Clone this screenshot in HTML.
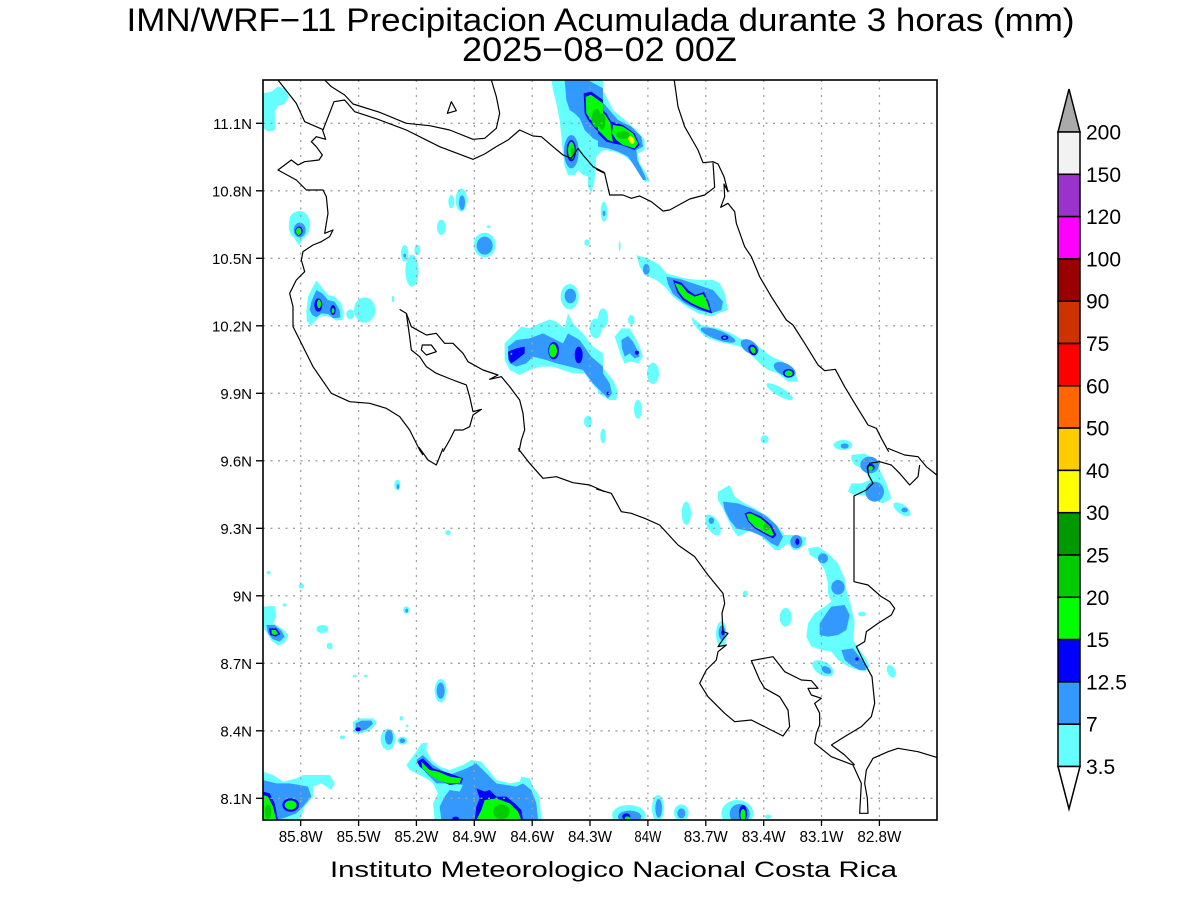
<!DOCTYPE html>
<html><head><meta charset="utf-8"><style>
html,body{margin:0;padding:0;background:#fff;}
svg{display:block;}
text{font-family:"Liberation Sans",sans-serif;fill:#000;}
</style></head><body>
<svg width="1200" height="900" viewBox="0 0 1200 900" xmlns="http://www.w3.org/2000/svg">
<defs><clipPath id="mc"><rect x="263" y="80" width="674" height="740"/></clipPath></defs>
<rect width="1200" height="900" fill="#fff"/>

<text x="126.5" y="31" font-size="32.5" textLength="948" lengthAdjust="spacingAndGlyphs">IMN/WRF−11 Precipitacion Acumulada durante 3 horas (mm)</text>
<text x="462" y="61" font-size="34" textLength="275" lengthAdjust="spacingAndGlyphs">2025−08−02 00Z</text>

<g clip-path="url(#mc)">
<!-- CYAN -->
<g fill="#66ffff">
<g transform="translate(263,80) scale(0.33333)">
<path d="M0,40 L25,35 L45,20 L65,25 L78,50 L65,72 L45,78 L35,95 L38,150 L15,155 L0,145 Z"/>
<path d="M80,415 Q85,395 110,393 Q135,395 140,425 Q143,455 128,470 Q115,480 110,495 Q100,490 95,475 Q75,460 78,430 Z"/>
<path d="M135,650 L150,620 L160,602 L175,620 L195,645 L215,650 L235,670 L242,700 L238,720 L220,722 L205,712 L190,708 L170,710 L155,725 L145,738 L132,725 L130,695 Z"/>
<ellipse cx="262" cy="703" rx="12" ry="15"/>
<ellipse cx="305" cy="690" rx="32" ry="38"/>
<ellipse cx="565" cy="365" rx="9" ry="20"/>
<ellipse cx="595" cy="360" rx="17" ry="35"/>
<ellipse cx="535" cy="442" rx="13" ry="23"/>
<ellipse cx="665" cy="495" rx="33" ry="37"/>
<ellipse cx="425" cy="520" rx="11" ry="25"/>
<ellipse cx="463" cy="510" rx="9" ry="16"/>
<ellipse cx="447" cy="572" rx="20" ry="48"/>
<ellipse cx="390" cy="657" rx="4" ry="10"/>
<ellipse cx="920" cy="650" rx="27" ry="38"/>
<ellipse cx="998" cy="745" rx="18" ry="30"/>
<ellipse cx="972" cy="488" rx="8" ry="10"/>
<ellipse cx="975" cy="1025" rx="12" ry="18"/>
<ellipse cx="677" cy="440" rx="6" ry="4"/>
<path d="M865,0 L1020,0 L1020,210 L1000,230 L995,300 L985,340 L975,320 L975,290 L960,285 L945,270 L935,285 L915,285 L905,260 L900,220 L895,170 L890,120 L880,70 L870,30 Z"/>
<path d="M725,790 L775,740 L800,745 L830,730 L860,718 L880,725 L905,745 L915,700 L930,730 L960,760 L990,800 L1020,820 L1020,945 L990,915 L965,880 L930,880 L900,870 L870,860 L830,860 L800,870 L770,885 L740,870 L725,840 Z"/>
</g>
<g transform="translate(598,80) scale(0.33333)">
<path d="M0,20 L20,40 L45,90 L80,120 L115,150 L140,180 L140,210 L120,220 L125,250 L145,280 L155,305 L140,305 L120,270 L100,245 L75,225 L50,215 L20,210 L0,215 Z"/>
<ellipse cx="18" cy="395" rx="10" ry="30"/>
<ellipse cx="65" cy="498" rx="3" ry="15"/>
<path d="M115,525 L150,535 L185,555 L205,580 L260,595 L300,600 L345,600 L365,610 L380,640 L390,690 L360,700 L340,710 L300,700 L265,680 L225,650 L200,620 L175,600 L140,585 L125,560 Z"/>
<path d="M280,710 L310,735 L360,745 L400,760 L425,775 L470,790 L495,810 L520,830 L555,845 L590,870 L600,905 L570,905 L540,880 L510,870 L490,855 L470,835 L440,805 L410,795 L380,790 L330,775 L310,760 L285,730 Z"/>
<ellipse cx="545" cy="935" rx="45" ry="13" transform="rotate(30 545 935)"/>
<path d="M50,770 L70,745 L95,745 L110,770 L125,800 L135,830 L120,850 L100,845 L80,850 L70,830 L60,800 Z"/>
<path d="M0,850 L20,870 L45,900 L60,935 L55,960 L35,960 L10,945 L0,940 Z"/>
<ellipse cx="165" cy="880" rx="18" ry="32"/>
<ellipse cx="120" cy="988" rx="12" ry="28"/>
<ellipse cx="15" cy="1068" rx="8" ry="22"/>
<ellipse cx="15" cy="715" rx="15" ry="30"/>
<ellipse cx="100" cy="720" rx="10" ry="15"/>
<ellipse cx="500" cy="1078" rx="12" ry="12"/>
<ellipse cx="735" cy="1095" rx="28" ry="15"/>
</g>
<g transform="translate(263,450) scale(0.33333)">
<ellipse cx="403" cy="105" rx="9" ry="16"/>
<ellipse cx="555" cy="248" rx="8" ry="8"/>
<ellipse cx="115" cy="408" rx="8" ry="8"/>
<ellipse cx="17" cy="368" rx="6" ry="5"/>
<ellipse cx="65" cy="465" rx="6" ry="5"/>
<ellipse cx="430" cy="480" rx="9" ry="11"/>
<path d="M0,470 L35,468 L40,500 L30,520 L60,538 L77,555 L65,578 L45,587 L25,572 L10,545 L0,535 Z"/>
<ellipse cx="178" cy="537" rx="18" ry="12"/>
<ellipse cx="200" cy="588" rx="9" ry="10"/>
<ellipse cx="275" cy="678" rx="6" ry="4"/>
<ellipse cx="308" cy="678" rx="5" ry="4"/>
<ellipse cx="533" cy="722" rx="18" ry="35"/>
<path d="M270,815 L290,805 L330,805 L342,818 L325,838 L295,850 L272,848 Z"/>
<ellipse cx="375" cy="868" rx="22" ry="32"/>
<ellipse cx="418" cy="872" rx="15" ry="12"/>
<ellipse cx="238" cy="862" rx="8" ry="6"/>
<ellipse cx="415" cy="805" rx="5" ry="7"/>
<ellipse cx="432" cy="828" rx="4" ry="4"/>
<path d="M0,965 L30,975 L60,995 L100,985 L120,975 L160,975 L200,975 L215,1000 L205,1020 L175,1000 L150,1010 L150,1040 L125,1070 L110,1110 L0,1110 Z"/>
<path d="M430,945 L460,905 L475,880 L492,878 L490,900 L505,930 L530,950 L560,960 L600,945 L625,930 L655,935 L680,965 L700,990 L740,1000 L770,995 L775,980 L800,985 L810,1010 L830,1040 L835,1110 L515,1110 L510,1060 L525,1030 L510,1000 L490,985 L460,970 L440,960 Z"/>
</g>
<g transform="translate(598,450) scale(0.33333)">
<path d="M360,125 L395,105 L410,140 L440,160 L470,175 L510,200 L540,230 L560,255 L590,255 L625,262 L620,285 L600,300 L585,300 L570,280 L545,300 L530,300 L510,280 L490,260 L460,240 L420,260 L405,240 L390,210 L375,175 L360,150 Z"/>
<ellipse cx="265" cy="190" rx="14" ry="35"/>
<ellipse cx="345" cy="225" rx="18" ry="35" transform="rotate(-30 345 225)"/>
<path d="M630,295 L660,290 L690,310 L720,340 L740,385 L745,420 L760,470 L770,520 L765,570 L785,600 L800,620 L815,650 L800,665 L780,660 L750,650 L720,630 L700,605 L670,600 L640,590 L625,560 L630,520 L650,490 L680,470 L700,455 L690,430 L690,400 L680,360 L660,330 L635,315 Z"/>
<ellipse cx="563" cy="502" rx="18" ry="28"/>
<ellipse cx="442" cy="432" rx="8" ry="10"/>
<ellipse cx="792" cy="492" rx="12" ry="7"/>
<ellipse cx="675" cy="655" rx="35" ry="20" transform="rotate(30 675 655)"/>
<ellipse cx="880" cy="664" rx="12" ry="20" transform="rotate(-25 880 664)"/>
<ellipse cx="370" cy="552" rx="16" ry="38"/>
<path d="M760,15 L800,10 L830,30 L845,60 L865,100 L880,145 L855,160 L830,150 L800,135 L770,135 L750,125 L760,100 L790,100 L815,90 L800,60 L770,45 L760,30 Z"/>
<ellipse cx="912" cy="178" rx="30" ry="14" transform="rotate(35 912 178)"/>
<ellipse cx="92" cy="1095" rx="50" ry="30"/>
<ellipse cx="180" cy="1075" rx="18" ry="40"/>
<ellipse cx="250" cy="1088" rx="22" ry="25"/>
<ellipse cx="418" cy="1090" rx="48" ry="40"/>
<ellipse cx="510" cy="1100" rx="10" ry="6"/>
</g>
</g>

<!-- LIGHT BLUE -->
<g fill="#3399ff">
<g transform="translate(263,80) scale(0.33333)">
<ellipse cx="110" cy="450" rx="18" ry="22"/>
<path d="M145,665 L160,630 L178,640 L195,660 L215,665 L230,690 L232,712 L212,715 L195,702 L175,700 L160,712 L148,705 L140,690 Z"/>
<ellipse cx="597" cy="368" rx="9" ry="22"/>
<ellipse cx="665" cy="497" rx="24" ry="27"/>
<ellipse cx="425" cy="527" rx="4" ry="6"/>
<ellipse cx="922" cy="648" rx="17" ry="22"/>
<path d="M905,0 L975,0 L1020,25 L1020,190 L990,175 L965,150 L950,115 L935,100 L920,90 L910,60 Z"/>
<ellipse cx="925" cy="215" rx="22" ry="50"/>
<path d="M735,800 L760,780 L800,775 L840,760 L870,775 L900,790 L915,760 L950,780 L985,830 L1020,860 L1020,940 L990,910 L960,870 L920,860 L880,850 L850,840 L810,830 L790,850 L760,860 L740,850 Z"/>
</g>
<g transform="translate(598,80) scale(0.33333)">
<path d="M0,50 L30,85 L60,120 L100,140 L130,170 L135,200 L115,210 L118,240 L140,285 L145,300 L135,300 L110,260 L90,230 L60,215 L30,205 L0,200 Z"/>
<ellipse cx="18" cy="400" rx="4" ry="8"/>
<ellipse cx="145" cy="568" rx="10" ry="16"/>
<path d="M205,590 L250,598 L300,615 L345,630 L375,665 L370,690 L340,700 L300,690 L260,670 L225,642 L210,612 Z"/>
<ellipse cx="360" cy="765" rx="55" ry="14" transform="rotate(20 360 765)"/>
<ellipse cx="455" cy="800" rx="30" ry="18" transform="rotate(35 455 800)"/>
<ellipse cx="560" cy="868" rx="35" ry="18" transform="rotate(25 560 868)"/>
<path d="M70,780 L90,768 L105,785 L118,810 L125,830 L110,835 L95,820 L80,830 L72,805 Z"/>
<path d="M0,860 L15,880 L35,910 L42,940 L30,955 L10,935 L0,925 Z"/>
<ellipse cx="740" cy="1098" rx="12" ry="8"/>
</g>
<g transform="translate(263,450) scale(0.33333)">
<ellipse cx="405" cy="110" rx="4" ry="8"/>
<ellipse cx="431" cy="482" rx="4" ry="6"/>
<path d="M10,525 L35,525 L55,542 L65,560 L50,575 L30,568 L15,550 Z"/>
<ellipse cx="533" cy="722" rx="12" ry="24"/>
<path d="M278,820 L295,812 L325,812 L330,822 L310,838 L290,845 L278,840 Z"/>
<ellipse cx="378" cy="862" rx="12" ry="22"/>
<ellipse cx="418" cy="872" rx="9" ry="7"/>
<path d="M0,990 L40,1000 L80,1000 L110,1005 L135,1010 L145,1040 L120,1070 L100,1090 L60,1105 L30,1110 L0,1110 Z"/>
<path d="M460,930 L480,915 L510,945 L560,975 L610,955 L640,940 L670,970 L700,1000 L760,1010 L780,1000 L805,1020 L820,1060 L825,1110 L535,1110 L530,1070 L545,1040 L560,1020 L590,1025 L600,1005 L560,1000 L520,1000 L490,970 Z"/>
</g>
<g transform="translate(598,450) scale(0.33333)">
<path d="M375,155 L420,160 L460,175 L500,195 L535,225 L555,260 L540,290 L520,280 L495,260 L460,245 L415,235 L395,210 L380,180 Z"/>
<ellipse cx="595" cy="275" rx="18" ry="20"/>
<ellipse cx="340" cy="212" rx="8" ry="10"/>
<ellipse cx="675" cy="325" rx="15" ry="15"/>
<ellipse cx="720" cy="412" rx="20" ry="22"/>
<path d="M700,470 L740,465 L755,495 L745,540 L720,555 L690,560 L665,555 L665,520 L685,490 Z"/>
<path d="M730,600 L765,595 L780,615 L800,640 L805,660 L785,660 L765,650 L740,630 Z"/>
<ellipse cx="685" cy="660" rx="16" ry="10" transform="rotate(30 685 660)"/>
<ellipse cx="372" cy="548" rx="10" ry="22"/>
<ellipse cx="815" cy="45" rx="28" ry="25"/>
<ellipse cx="830" cy="125" rx="28" ry="30"/>
<ellipse cx="920" cy="180" rx="10" ry="7"/>
<ellipse cx="95" cy="1100" rx="35" ry="18"/>
<ellipse cx="182" cy="1075" rx="10" ry="28"/>
<ellipse cx="250" cy="1090" rx="12" ry="15"/>
<ellipse cx="425" cy="1092" rx="30" ry="30"/>
</g>
</g>

<!-- BLUE -->
<g fill="#0000ff">
<g transform="translate(263,80) scale(0.33333)">
<ellipse cx="108" cy="453" rx="11" ry="14"/>
<ellipse cx="166" cy="675" rx="12" ry="20"/>
<ellipse cx="210" cy="690" rx="8" ry="15"/>
<path d="M962,40 L985,35 L1020,60 L1020,160 L1000,150 L975,120 L965,100 Z"/>
<ellipse cx="925" cy="212" rx="14" ry="32"/>
<path d="M735,815 L760,805 L785,800 L785,820 L760,840 L745,850 L737,840 Z"/>
<ellipse cx="872" cy="812" rx="16" ry="26"/>
<ellipse cx="947" cy="825" rx="12" ry="25"/>
</g>
<g transform="translate(598,80) scale(0.33333)">
<path d="M0,75 L25,100 L40,125 L75,135 L110,160 L125,195 L110,210 L70,195 L45,190 L25,185 L0,160 Z"/>
<path d="M225,600 L250,608 L272,632 L292,645 L318,636 L332,665 L342,700 L312,690 L280,675 L255,660 L238,638 Z"/>
<ellipse cx="380" cy="773" rx="11" ry="7"/>
<ellipse cx="465" cy="810" rx="13" ry="17" transform="rotate(-30 465 810)"/>
<ellipse cx="572" cy="880" rx="17" ry="13"/>
<ellipse cx="117" cy="818" rx="6" ry="6"/>
<ellipse cx="30" cy="940" rx="4" ry="5"/>
</g>
<g transform="translate(263,450) scale(0.33333)">
<path d="M18,535 L40,535 L52,552 L38,560 L22,555 Z"/>
<ellipse cx="285" cy="838" rx="8" ry="6"/>
<path d="M0,1025 L20,1030 L35,1060 L45,1110 L0,1110 Z"/>
<ellipse cx="83" cy="1065" rx="25" ry="20"/>
<path d="M462,935 L480,925 L510,955 L560,970 L600,985 L595,1000 L560,1005 L530,990 L500,975 L470,950 Z"/>
<path d="M640,1015 L665,1025 L680,1020 L700,1040 L730,1040 L755,1060 L775,1080 L780,1110 L635,1110 L640,1070 L650,1045 Z"/>
<ellipse cx="578" cy="1105" rx="10" ry="5"/>
</g>
<g transform="translate(598,450) scale(0.33333)">
<path d="M440,190 L455,185 L490,200 L520,225 L535,255 L525,265 L505,255 L470,235 L450,215 Z"/>
<ellipse cx="598" cy="275" rx="6" ry="10"/>
<ellipse cx="777" cy="627" rx="5" ry="5"/>
<ellipse cx="818" cy="52" rx="12" ry="10"/>
<ellipse cx="375" cy="548" rx="5" ry="8"/>
<ellipse cx="85" cy="1100" rx="12" ry="10"/>
<ellipse cx="435" cy="1090" rx="12" ry="25"/>
</g>
</g>

<!-- GREEN -->
<g fill="#00ff00">
<g transform="translate(263,80) scale(0.33333)">
<ellipse cx="107" cy="454" rx="8" ry="11"/>
<ellipse cx="168" cy="672" rx="6" ry="13"/>
<ellipse cx="210" cy="692" rx="4" ry="8"/>
<path d="M968,50 L985,45 L1020,70 L1020,150 L1000,140 L980,115 L970,100 Z"/>
<ellipse cx="925" cy="212" rx="10" ry="26"/>
<ellipse cx="870" cy="812" rx="12" ry="20"/>
<ellipse cx="745" cy="822" rx="3" ry="3"/>
</g>
<g transform="translate(598,80) scale(0.33333)">
<path d="M0,85 L22,105 L38,130 L40,160 L45,185 L30,180 L15,165 L0,150 Z"/>
<path d="M45,135 L75,140 L105,160 L120,190 L110,205 L75,195 L55,180 L42,160 Z"/>
<path d="M230,608 L250,615 L268,638 L290,650 L315,642 L327,665 L336,692 L310,683 L282,670 L258,655 L242,635 Z"/>
<ellipse cx="380" cy="773" rx="5" ry="3"/>
<ellipse cx="465" cy="810" rx="7" ry="11" transform="rotate(-30 465 810)"/>
<ellipse cx="572" cy="880" rx="12" ry="9"/>
</g>
<g transform="translate(263,450) scale(0.33333)">
<path d="M25,540 L38,540 L46,552 L35,555 L26,552 Z"/>
<path d="M0,1035 L15,1040 L30,1070 L40,1110 L0,1110 Z"/>
<ellipse cx="83" cy="1065" rx="18" ry="14"/>
<path d="M475,935 L500,960 L525,965 L560,980 L595,985 L590,1000 L555,1000 L525,990 L500,975 L478,955 Z"/>
<path d="M665,1050 L700,1045 L740,1060 L765,1085 L775,1110 L640,1110 L655,1080 Z"/>
</g>
<g transform="translate(598,450) scale(0.33333)">
<path d="M445,192 L458,190 L488,205 L515,228 L528,255 L520,258 L505,250 L472,232 L452,212 Z"/>
<ellipse cx="818" cy="55" rx="7" ry="7"/>
<ellipse cx="88" cy="1105" rx="8" ry="6"/>
<ellipse cx="435" cy="1095" rx="8" ry="18"/>
</g>
</g>

<!-- DARK GREEN / YELLOW -->
<g fill="#00cc00">
<g transform="translate(263,80) scale(0.33333)">
<ellipse cx="1000" cy="115" rx="14" ry="28"/>
<ellipse cx="928" cy="215" rx="5" ry="12"/>
</g>
<g transform="translate(598,80) scale(0.33333)">
<ellipse cx="75" cy="165" rx="20" ry="12"/>
<ellipse cx="12" cy="125" rx="10" ry="25"/>
</g>
<g transform="translate(263,450) scale(0.33333)">
<ellipse cx="15" cy="1085" rx="10" ry="22"/>
<ellipse cx="715" cy="1085" rx="25" ry="22"/>
</g>
<g transform="translate(598,450) scale(0.33333)">
<ellipse cx="505" cy="232" rx="10" ry="10"/>
</g>
</g>
<g fill="#ffff00" transform="translate(598,80) scale(0.33333)">
<ellipse cx="100" cy="180" rx="8" ry="12" transform="rotate(-30 100 180)"/>
</g>

<!-- GRID -->
<g stroke="#a0a0a0" stroke-width="1.3" stroke-dasharray="2,5.5" fill="none">
<path d="M300.7,80V820M358.6,80V820M416.4,80V820M474.3,80V820M532.2,80V820M590,80V820M647.9,80V820M705.8,80V820M763.7,80V820M821.5,80V820M879.4,80V820"/>
<path d="M263,123.3H937M263,190.8H937M263,258.3H937M263,325.8H937M263,393.3H937M263,460.8H937M263,528.3H937M263,595.8H937M263,663.3H937M263,730.8H937M263,798.3H937"/>
</g>

<!-- COASTLINES -->
<g fill="none" stroke="#000" stroke-width="3.6" stroke-linejoin="round">
<g transform="translate(263,80) scale(0.33333)">
<path d="M45,0 L100,70 L125,125 L178,148 L188,178 L160,170 L145,185 L160,200 L178,225 L168,240 L125,245 L105,255 L85,240 L45,270 L100,300 L130,330 L180,330 L190,350 L195,400 L185,460 L210,450 L200,470 L175,485 L150,495 L120,515 L115,540 L125,575 L100,600 L80,640 L90,680 L90,740 L120,800 L150,860 L205,940 L260,965 L320,970 L370,985 L410,1010 L440,1050 L470,1110 L480,1125"/>
<path d="M185,0 L205,20 L245,45 L270,72 L350,97 L430,130 L500,137 L560,150 L630,178 L665,175 L700,145 L710,100 L700,50 L685,0"/>
<path d="M180,150 L213,65 L245,60 L275,95 L345,118 L430,150 L530,200 L630,238 L665,222 L700,200 L735,180 L770,150 L810,168 L835,170 L870,200 L900,225 L925,235 L945,205 L960,225 L990,260 L1025,278"/>
<path d="M565,65 L580,92 L553,100 Z"/>
<path d="M410,688 L430,700 L445,740 L490,765 L520,760 L545,790 L570,790 L600,820 L615,845 L660,870 L705,885 L680,898 L715,890 L740,920 L770,960 L780,1000 L785,1050 L775,1080 L768,1115"/>
<path d="M430,700 L440,770 L445,810 L470,830 L490,860 L520,880 L570,900 L610,915 L620,950 L630,995 L655,988 L630,1005 L620,1040 L600,1050 L575,1050 L560,1080 L540,1115"/>
<path d="M478,795 L505,795 L520,815 L490,825 L475,810 Z"/>
</g>
<g transform="translate(598,80) scale(0.33333)">
<path d="M-5,268 L20,280 L35,345 L75,345 L100,355 L125,348 L160,365 L195,393 L215,390 L275,357 L320,345 L350,322 L345,248"/>
<path d="M228,-5 L240,80 L260,140 L300,210 L315,248 L345,245 L360,252 L378,290 L390,335 L378,312 L380,350 L368,382 L390,370 L410,395 L415,430 L440,500 L460,530 L485,590 L520,650 L565,720 L585,735 L620,790 L660,855 L680,872 L712,868 L740,920 L770,970 L810,1035 L835,1045 L850,1075 L872,1115"/>
</g>
<g transform="translate(263,450) scale(0.33333)">
<path d="M765,-5 L800,40 L840,85 L880,80 L930,98 L980,105 L1025,125"/>
<path d="M468,-8 L495,30 L520,45 L540,-5"/>
</g>
<g transform="translate(598,450) scale(0.33333)">
<path d="M-5,117 L40,130 L70,185 L100,190 L140,205 L185,225 L240,285 L290,320 L330,375 L375,430 L380,460 L372,490 L375,545 L390,550 L375,568 L360,590 L385,585 L360,605 L355,630 L325,660 L305,700 L330,740 L380,790 L410,815 L460,810 L555,858 L575,830 L570,780 L545,740 L500,715 L485,690 L460,632 L525,620 L560,665 L610,690 L640,692 L660,715 L630,715 L640,735 L670,745 L650,760 L665,790 L665,825 L655,850 L650,880 L700,920 L765,945 L790,1000 L785,1090 L810,1090 L808,1045 L800,1000 L805,960 L825,925 L870,905 L900,895 L960,905 L1025,925"/>
<path d="M700,885 L740,860 L790,830 L820,800 L830,760 L822,680 L800,640 L775,590 L800,575 L805,545 L840,520 L880,495 L890,475 L875,455 L850,440 L810,405 L768,395 L768,138 L805,120 L825,100 L812,75 L808,55 L815,40 L845,35 L880,45 L905,70 L935,105 L960,80 L965,45"/>
<path d="M700,885 L740,915 L770,945"/>
<path d="M870,-5 L920,15 L960,20 L985,50 L1025,82"/>
</g>
</g>
</g>

<!-- FRAME -->
<rect x="263" y="80" width="674" height="740" fill="none" stroke="#000" stroke-width="1.6"/>
<g stroke="#000" stroke-width="1.3">
<path d="M256,123.3H263M256,190.8H263M256,258.3H263M256,325.8H263M256,393.3H263M256,460.8H263M256,528.3H263M256,595.8H263M256,663.3H263M256,730.8H263M256,798.3H263"/>
<path d="M300.7,820V826M358.6,820V826M416.4,820V826M474.3,820V826M532.2,820V826M590,820V826M647.9,820V826M705.8,820V826M763.7,820V826M821.5,820V826M879.4,820V826"/>
</g>

<g font-size="15" text-anchor="end">
<text x="252" y="129">11.1N</text>
<text x="252" y="196.5">10.8N</text>
<text x="252" y="264">10.5N</text>
<text x="252" y="331.5">10.2N</text>
<text x="252" y="399">9.9N</text>
<text x="252" y="466.5">9.6N</text>
<text x="252" y="534">9.3N</text>
<text x="252" y="601.5">9N</text>
<text x="252" y="669">8.7N</text>
<text x="252" y="736.5">8.4N</text>
<text x="252" y="804">8.1N</text>
</g>
<g font-size="15.5" text-anchor="middle">
<text x="300.7" y="842" textLength="44" lengthAdjust="spacingAndGlyphs">85.8W</text>
<text x="358.6" y="842" textLength="44" lengthAdjust="spacingAndGlyphs">85.5W</text>
<text x="416.4" y="842" textLength="44" lengthAdjust="spacingAndGlyphs">85.2W</text>
<text x="474.3" y="842" textLength="44" lengthAdjust="spacingAndGlyphs">84.9W</text>
<text x="532.2" y="842" textLength="44" lengthAdjust="spacingAndGlyphs">84.6W</text>
<text x="590" y="842" textLength="44" lengthAdjust="spacingAndGlyphs">84.3W</text>
<text x="647.9" y="842" textLength="27" lengthAdjust="spacingAndGlyphs">84W</text>
<text x="705.8" y="842" textLength="44" lengthAdjust="spacingAndGlyphs">83.7W</text>
<text x="763.7" y="842" textLength="44" lengthAdjust="spacingAndGlyphs">83.4W</text>
<text x="821.5" y="842" textLength="44" lengthAdjust="spacingAndGlyphs">83.1W</text>
<text x="879.4" y="842" textLength="44" lengthAdjust="spacingAndGlyphs">82.8W</text>
</g>

<text x="330" y="877" font-size="22" textLength="567" lengthAdjust="spacingAndGlyphs">Instituto Meteorologico Nacional Costa Rica</text>

<!-- COLORBAR -->
<g stroke="#000" stroke-width="1.5">
<polygon points="1058,132 1080,132 1069,89" fill="#aaaaaa"/>
<rect x="1058" y="132" width="22" height="42.3" fill="#f2f2f2"/>
<rect x="1058" y="174.3" width="22" height="42.3" fill="#9933cc"/>
<rect x="1058" y="216.6" width="22" height="42.3" fill="#ff00ff"/>
<rect x="1058" y="258.9" width="22" height="42.3" fill="#990000"/>
<rect x="1058" y="301.2" width="22" height="42.3" fill="#cc3300"/>
<rect x="1058" y="343.5" width="22" height="42.3" fill="#ff0000"/>
<rect x="1058" y="385.8" width="22" height="42.3" fill="#ff6600"/>
<rect x="1058" y="428.1" width="22" height="42.3" fill="#ffcc00"/>
<rect x="1058" y="470.4" width="22" height="42.3" fill="#ffff00"/>
<rect x="1058" y="512.7" width="22" height="42.3" fill="#009900"/>
<rect x="1058" y="555" width="22" height="42.3" fill="#00cc00"/>
<rect x="1058" y="597.3" width="22" height="42.3" fill="#00ff00"/>
<rect x="1058" y="639.6" width="22" height="42.3" fill="#0000ff"/>
<rect x="1058" y="681.9" width="22" height="42.3" fill="#3399ff"/>
<rect x="1058" y="724.2" width="22" height="42.3" fill="#66ffff"/>
<polygon points="1058,766.5 1080,766.5 1069,809" fill="#ffffff"/>
</g>
<g font-size="21">
<text x="1086" y="139.5">200</text>
<text x="1086" y="181.8">150</text>
<text x="1086" y="224.1">120</text>
<text x="1086" y="266.4">100</text>
<text x="1086" y="308.7">90</text>
<text x="1086" y="351">75</text>
<text x="1086" y="393.3">60</text>
<text x="1086" y="435.6">50</text>
<text x="1086" y="477.9">40</text>
<text x="1086" y="520.2">30</text>
<text x="1086" y="562.5">25</text>
<text x="1086" y="604.8">20</text>
<text x="1086" y="647.1">15</text>
<text x="1086" y="689.4">12.5</text>
<text x="1086" y="731.7">7</text>
<text x="1086" y="774">3.5</text>
</g>
</svg>
</body></html>
